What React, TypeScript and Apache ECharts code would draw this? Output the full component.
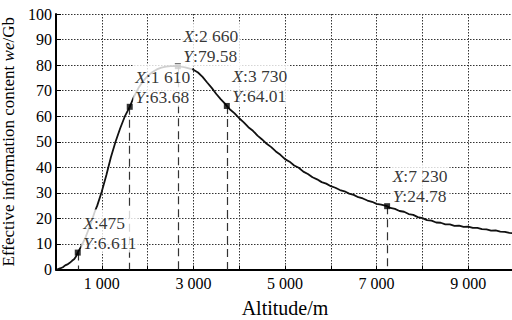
import React, { useEffect, useRef } from "react";
import * as echarts from "echarts";

const FONT = "Liberation Serif, Times New Roman, serif";

// Altitude (m) and effective information content (Gb)
const altitude: number[] = [
  20, 100, 150, 200, 250, 300, 350, 400, 440, 475,
  550, 650, 750, 850, 900, 1000, 1100, 1200, 1300, 1400, 1500, 1610,
  1700, 1800, 1900, 2000, 2100, 2200, 2300, 2400, 2500, 2600, 2660,
  2700, 2800, 2900, 3000, 3100, 3200, 3300, 3400, 3500, 3600, 3700, 3730,
  3800, 3900, 4000, 4100, 4200, 4300, 4400, 4500, 4600, 4700, 4800, 4900,
  5000, 5100, 5200, 5300, 5400, 5500, 5600, 5700, 5800, 5900,
  6000, 6100, 6200, 6300, 6400, 6500, 6600, 6700, 6800, 6900,
  7000, 7100, 7230, 7300, 7400, 7500, 7600, 7700, 7800, 7900,
  8000, 8100, 8200, 8300, 8400, 8500, 8600, 8700, 8800, 8900,
  9000, 9100, 9200, 9300, 9400, 9500, 9600, 9700, 9800, 9900, 10000,
];
const infoContent: number[] = [
  0, 0.5, 0.9, 1.6, 2.0, 2.6, 3.4, 4.1, 5.2, 6.611,
  9.0, 12.8, 17.5, 22.8, 25.0, 30.5, 37.0, 44.0, 50.0, 55.2, 59.8, 63.68,
  67.6, 71.0, 73.7, 75.7, 77.2, 78.3, 79.0, 79.4, 79.6, 79.6, 79.58,
  79.5, 79.2, 78.7, 78.2, 77.1, 75.4, 73.2, 71.1, 68.7, 66.6, 64.7, 64.01,
  62.6, 61.1, 59.2, 57.6, 55.7, 54.3, 52.4, 50.9, 49.2, 47.9, 46.2, 44.9,
  43.2, 42.2, 40.7, 39.8, 38.3, 37.4, 36.1, 35.3, 34.2, 33.6,
  32.6, 32.0, 31.1, 30.6, 29.7, 29.2, 28.3, 27.8, 27.0, 26.5,
  25.7, 25.4, 24.78, 24.1, 23.7, 22.9, 22.6, 21.7, 21.4, 20.5,
  20.1, 19.3, 19.1, 18.4, 18.3, 17.7, 17.7, 17.1, 17.2, 16.7,
  16.8, 16.3, 16.3, 15.8, 15.7, 15.2, 15.3, 14.8, 14.7, 14.3, 14.2,
];

// Annotated points
const markAltitude: number[] = [475, 1610, 2660, 3730, 7230];
const markValue: string[] = ["6.611", "63.68", "79.58", "64.01", "24.78"];

const fmtThousands = (n: number): string =>
  String(n).replace(/\B(?=(\d{3})+(?!\d))/g, " ");

export default function App() {
  const ref = useRef<HTMLDivElement>(null);

  useEffect(() => {
    if (!ref.current) return;
    const chart = echarts.init(ref.current, null, { renderer: "svg" });

    const lineData = altitude.map((x, i) => [x, infoContent[i]]);
    const markData = markAltitude.map((x, i) => [x, parseFloat(markValue[i])]);

    chart.setOption({
      animation: false,
      backgroundColor: "#ffffff",
      grid: {
        left: 56,
        top: 14,
        width: 458,
        height: 255.5,
        containLabel: false,
        outerBoundsMode: "none",
      },
      xAxis: {
        type: "value",
        min: 0,
        max: 10000,
        interval: 1000,
        name: "Altitude/m",
        nameLocation: "middle",
        nameGap: 28,
        nameTextStyle: { fontFamily: FONT, fontSize: 20, color: "#000" },
        axisLine: { show: true, onZero: false, lineStyle: { color: "#000", width: 2 } },
        axisTick: { show: true, inside: true, length: 4, lineStyle: { color: "#000" } },
        axisLabel: {
          fontFamily: FONT,
          fontSize: 16,
          color: "#000",
          margin: 6,
          formatter: (v: number) => (v % 2000 === 1000 ? fmtThousands(v) : ""),
        },
        splitLine: {
          show: true,
          lineStyle: { color: "#333", width: 1, type: [1.5, 1.5] },
        },
      },
      yAxis: {
        type: "value",
        min: 0,
        max: 100,
        interval: 10,
        name: "Effective information content {i|we}/Gb",
        nameLocation: "middle",
        nameGap: 35,
        nameTextStyle: {
          fontFamily: FONT,
          fontSize: 17,
          color: "#000",
          rich: {
            i: { fontFamily: FONT, fontSize: 17, fontStyle: "italic", color: "#000" },
          },
        },
        axisLine: { show: true, lineStyle: { color: "#000", width: 2 } },
        axisTick: { show: true, inside: true, length: 5, lineStyle: { color: "#000" } },
        axisLabel: { fontFamily: FONT, fontSize: 16, color: "#000", margin: 4 },
        splitLine: {
          show: true,
          lineStyle: { color: "#333", width: 1, type: [1.5, 1.5] },
        },
      },
      series: [
        {
          type: "line",
          data: lineData,
          showSymbol: false,
          symbol: "none",
          z: 2,
          lineStyle: { color: "#111", width: 1.8 },
          markLine: {
            silent: true,
            symbol: "none",
            label: { show: false },
            lineStyle: { color: "#333", width: 1.2, type: [8, 5] },
            data: markData.map(([x, y]) => [{ coord: [x, y] }, { coord: [x, 0] }]),
          },
        },
        {
          type: "scatter",
          data: markData,
          symbol: "rect",
          symbolSize: 6,
          z: 5,
          itemStyle: { color: "#000" },
          label: {
            show: true,
            position: [6.5, -40],
            align: "left",
            verticalAlign: "top",
            fontFamily: FONT,
            fontSize: 17.5,
            lineHeight: 20,
            color: "#000",
            backgroundColor: "#ffffff",
            padding: [3, 2, 0, 2],
            formatter: (p: any) =>
              `{i|X}:${fmtThousands(markAltitude[p.dataIndex])}\n{i|Y}:${markValue[p.dataIndex]}`,
            rich: {
              i: {
                fontFamily: FONT,
                fontSize: 17.5,
                lineHeight: 20,
                fontStyle: "italic",
                color: "#000",
              },
            },
          },
        },
      ],
    });

    return () => chart.dispose();
  }, []);

  return (
    <div
      ref={ref}
      style={{ position: "absolute", left: 0, top: 0, width: 512, height: 320 }}
    />
  );
}
